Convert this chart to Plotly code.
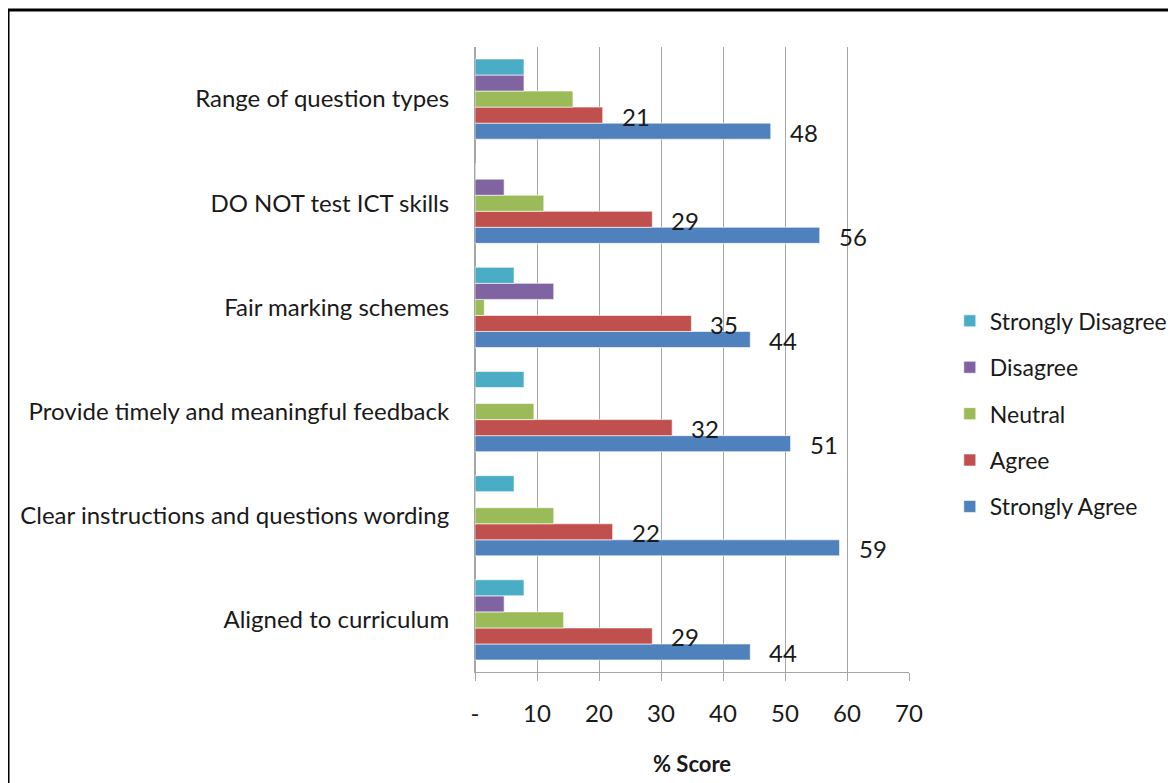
import plotly.graph_objects as go

# Categories listed bottom -> top
categories = [
    "Aligned to curriculum",
    "Clear instructions and questions wording",
    "Provide timely and meaningful feedback",
    "Fair marking schemes",
    "DO NOT test ICT skills",
    "Range of question types",
]
strongly_agree = [44.4, 58.8, 50.9, 44.4, 55.6, 47.7]
agree = [28.6, 22.2, 31.8, 34.9, 28.6, 20.6]
neutral = [14.3, 12.7, 9.5, 1.5, 11.1, 15.8]
disagree = [4.7, 0, 0, 12.7, 4.7, 7.9]
strongly_disagree = [7.9, 6.3, 7.9, 6.3, 0, 7.9]

tick_vals = [0, 10, 20, 30, 40, 50, 60, 70]
tick_text = ["-", "10", "20", "30", "40", "50", "60", "70"]

series = [
    ("Strongly Agree", strongly_agree, "#4F81BD"),
    ("Agree", agree, "#C0504D"),
    ("Neutral", neutral, "#9BBB59"),
    ("Disagree", disagree, "#8064A2"),
    ("Strongly Disagree", strongly_disagree, "#4BACC6"),
]

FONT = "Lato, Calibri, Carlito, sans-serif"
TXT = "#1a1a1a"

fig = go.Figure()
for i, (name, vals, color) in enumerate(series):
    fig.add_trace(go.Bar(
        y=categories, x=vals, name=name, orientation="h",
        marker=dict(color=color, line=dict(color="rgba(255,255,255,0.6)", width=1)),
        legendgroup=name, legendrank=len(series) - i,
    ))

annotations = []
for vals, yshift in [(strongly_agree, -33), (agree, -17)]:
    for cat, v in zip(categories, vals):
        annotations.append(dict(
            x=v, y=cat, xref="x", yref="y", text=str(int(round(v))),
            showarrow=False, xanchor="left", yanchor="middle",
            xshift=17, yshift=yshift,
            font=dict(family=FONT, size=24, color=TXT),
        ))

annotations.append(dict(
    x=0.5, y=-0.147, xref="paper", yref="paper", text="<b>% Score</b>",
    showarrow=False, font=dict(family=FONT, size=22, color=TXT),
    yanchor="middle",
))

fig.update_layout(
    width=1176, height=783,
    margin=dict(l=467, r=275, t=39, b=119),
    paper_bgcolor="white", plot_bgcolor="white",
    barmode="group", bargap=0.23, bargroupgap=0,
    font=dict(family=FONT, size=23, color=TXT),
    showlegend=True,
    legend=dict(
        x=1.094, y=0.413, xanchor="left", yanchor="middle",
        traceorder="grouped", tracegroupgap=13.5,
        font=dict(family=FONT, size=23, color=TXT),
        itemwidth=30,
    ),
    annotations=annotations,
    shapes=[dict(
        type="rect", xref="paper", yref="paper",
        x0=-1.076, x1=1.65, y0=-0.22, y1=1.0592,
        line=dict(color="black", width=3), fillcolor="rgba(0,0,0,0)",
    )],
)

fig.update_xaxes(
    range=[0, 70], tickvals=tick_vals, ticktext=tick_text,
    showgrid=True, gridcolor="#a6a6a6", gridwidth=1,
    showline=True, linecolor="#a6a6a6", linewidth=1, mirror=False,
    ticks="outside", ticklen=8, tickcolor="#a6a6a6",
    zeroline=True, zerolinecolor="#a6a6a6", zerolinewidth=1,
    tickfont=dict(family=FONT, size=24, color=TXT),
    ticklabelstandoff=12,
)
fig.update_yaxes(
    showgrid=False, showline=True, linecolor="#a6a6a6", linewidth=1,
    ticks="", tickfont=dict(family=FONT, size=24, color=TXT),
    ticklabelstandoff=20,
)

fig.write_html("out.html")
